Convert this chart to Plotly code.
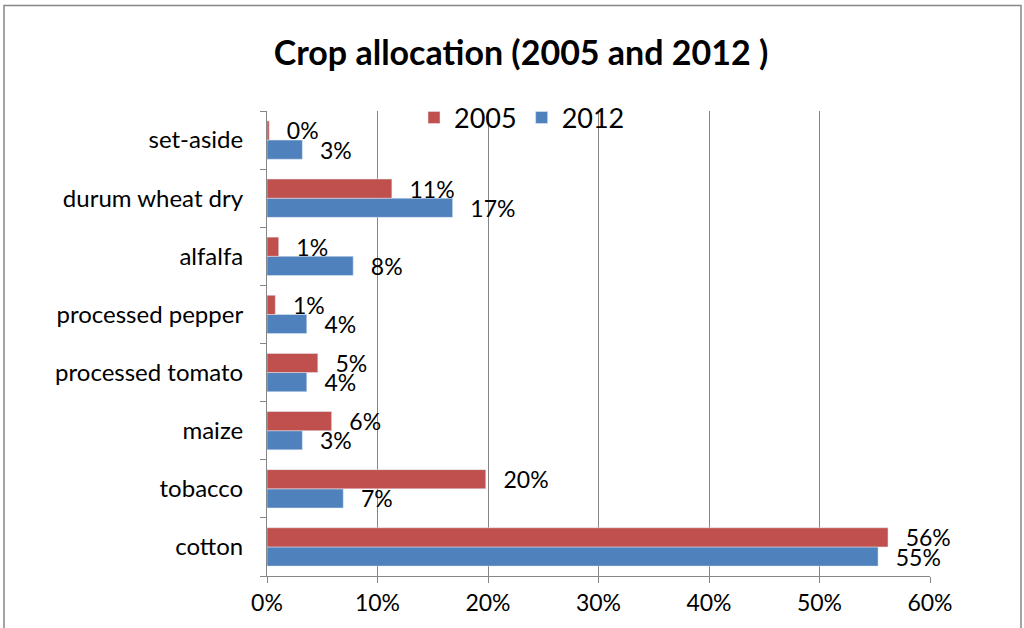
import plotly.graph_objects as go

categories = ["cotton", "tobacco", "maize", "processed tomato", "processed pepper",
              "alfalfa", "durum wheat dry", "set-aside"]
values_2005 = [0.562, 0.198, 0.0585, 0.046, 0.0075, 0.0106, 0.113, 0.002]
values_2012 = [0.553, 0.069, 0.032, 0.036, 0.036, 0.078, 0.168, 0.032]
x_ticks = [0, 0.1, 0.2, 0.3, 0.4, 0.5, 0.6]
x_ticklabels = ["0%", "10%", "20%", "30%", "40%", "50%", "60%"]

FONT = "Lato"
RED = "#C0504D"
BLUE = "#4F81BD"
GRID = "#868686"
pad = "\u00a0\u00a0\u2009"

fig = go.Figure()
fig.add_trace(go.Bar(
    y=categories, x=values_2012, name="2012", orientation="h",
    marker=dict(color=BLUE),
    texttemplate=pad + "%{x:.0%}", textposition="outside",
    textfont=dict(family=FONT, size=23, color="black"),
    constraintext="none", cliponaxis=False, hoverinfo="skip",
))
fig.add_trace(go.Bar(
    y=categories, x=values_2005, name="2005", orientation="h",
    marker=dict(color=RED),
    texttemplate=pad + "%{x:.0%}", textposition="outside",
    textfont=dict(family=FONT, size=23, color="black"),
    constraintext="none", cliponaxis=False, hoverinfo="skip",
))

L, R, T, B = 267, 94, 111, 50
W, H = 1024, 628
pw, ph = W - L - R, H - T - B

fig.update_layout(
    width=W, height=H,
    margin=dict(l=L, r=R, t=T, b=B),
    paper_bgcolor="white", plot_bgcolor="white",
    barmode="group", bargap=0.34, bargroupgap=0,
    font=dict(family=FONT, size=23, color="black"),
    title=dict(text="<b>Crop allocation (2005 and 2012 )</b>", x=521 / W, xanchor="center",
               y=1 - 53 / H, yanchor="middle", font=dict(family=FONT, size=34, color="black")),
    legend=dict(orientation="h", traceorder="reversed", x=(414 - L) / pw, xanchor="left",
                y=1 - (118 - T) / ph, yanchor="middle", bgcolor="rgba(0,0,0,0)",
                font=dict(family=FONT, size=27, color="black")),
    xaxis=dict(range=[0, 0.6], tickvals=x_ticks, ticktext=x_ticklabels,
               showgrid=True, gridcolor=GRID, gridwidth=1, zeroline=False,
               showline=True, linecolor=GRID, ticks="outside", ticklen=6, tickcolor=GRID,
               tickfont=dict(family=FONT, size=23, color="black")),
    yaxis=dict(type="category", categoryorder="array", categoryarray=categories,
               range=[-0.5, len(categories) - 0.5],
               showgrid=False, zeroline=False, showline=True, linecolor=GRID,
               ticks="outside", ticklen=6, tickcolor=GRID, tickson="boundaries",
               ticklabelstandoff=18,
               tickfont=dict(family=FONT, size=24, color="black")),
    shapes=[dict(type="rect", xref="paper", yref="paper",
                 x0=(4 - L) / pw, x1=(1021 - L) / pw,
                 y0=1 - (660 - T) / ph, y1=1 + (T - 5) / ph,
                 line=dict(color=GRID, width=1.5), layer="below")],
)

fig.write_html("out.html", config={"displayModeBar": False},
               post_script="document.body.style.margin='0';document.body.style.padding='0';")
